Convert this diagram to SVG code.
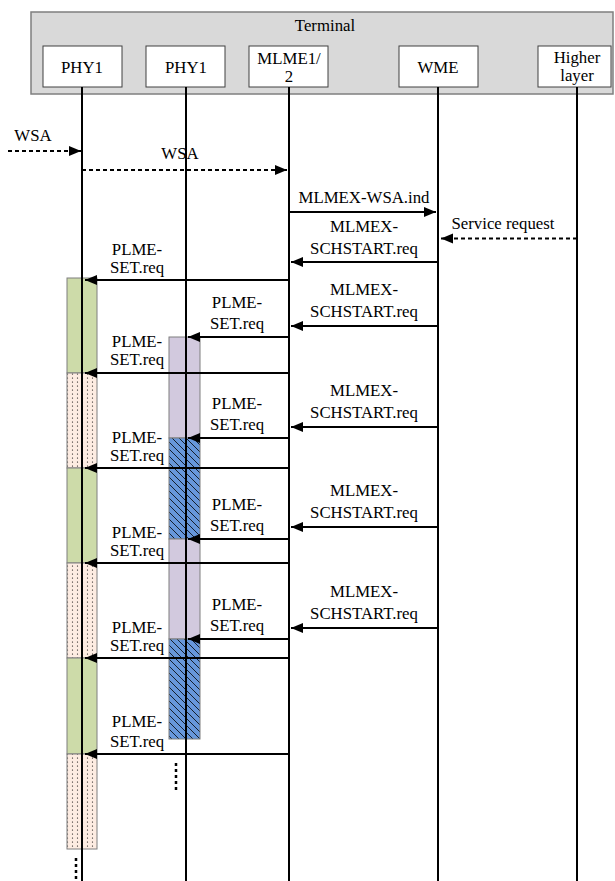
<svg xmlns="http://www.w3.org/2000/svg" width="615" height="881" viewBox="0 0 615 881">
<style>
text{font-family:'Liberation Serif','Times New Roman',Times,'DejaVu Serif',serif;font-size:16.8px;fill:#000;text-anchor:middle}
.box{fill:#fff;stroke:#404040;stroke-width:1}
.life{stroke:#000;stroke-width:2;fill:none}
.msg{stroke:#000;stroke-width:2;fill:none;marker-end:url(#ah)}
.dash{stroke:#000;stroke-width:2;fill:none;stroke-dasharray:4 3;marker-end:url(#ah)}
.dots{stroke:#000;stroke-width:2.5;fill:none;stroke-dasharray:3 3}
.blk{stroke:#7f7f7f;stroke-width:1}
.green{fill:#cddba9}
.purple{fill:#d2c9de}
.pink{fill:url(#dotpat)}
.blue{fill:url(#hatch)}
</style>
<defs>
<marker id="ah" markerUnits="userSpaceOnUse" markerWidth="13" markerHeight="11" refX="12" refY="5" orient="auto">
<path d="M0,0 L12,5 L0,10 z" fill="#000"/>
</marker>
<pattern id="dotpat" patternUnits="userSpaceOnUse" width="5" height="4">
<rect width="5" height="4" fill="#fdece2"/>
<circle cx="2.5" cy="2" r="0.6" fill="#000"/>
</pattern>
<pattern id="hatch" patternUnits="userSpaceOnUse" width="7" height="7">
<rect width="7" height="7" fill="#6797db"/>
<path d="M-1,-1 L8,8 M-1,6 L1,8 M6,-1 L8,1" stroke="#000" stroke-width="0.8"/>
</pattern>
</defs>

<g font-family="'Liberation Serif','Times New Roman',Times,'DejaVu Serif',serif">
<g id="terminal">
<rect x="31" y="12" width="582" height="82" fill="#d9d9d9" stroke="#7f7f7f" stroke-width="1.5"/>
<text x="325" y="31">Terminal</text>
</g>

<g id="blocks">
<rect class="blk green" x="67" y="278" width="30" height="95"/>
<rect class="blk pink" x="67" y="373" width="30" height="95"/>
<rect class="blk green" x="67" y="468" width="30" height="95"/>
<rect class="blk pink" x="67" y="563" width="30" height="95"/>
<rect class="blk green" x="67" y="658" width="30" height="96"/>
<rect class="blk pink" x="67" y="754" width="30" height="95"/>
<rect class="blk purple" x="169" y="337" width="31" height="101"/>
<rect class="blk blue" x="169" y="438" width="31" height="101"/>
<rect class="blk purple" x="169" y="539" width="31" height="100"/>
<rect class="blk blue" x="169" y="639" width="31" height="100"/>
</g>

<g id="phy1a">
<rect class="box" x="43" y="46" width="79" height="41"/>
<text x="82" y="73">PHY1</text>
<line class="life" x1="82" y1="87" x2="82" y2="881"/>
<line class="dots" x1="76" y1="858" x2="76" y2="881"/>
</g>
<g id="phy1b">
<rect class="box" x="146" y="46" width="79" height="41"/>
<text x="186" y="73">PHY1</text>
<line class="life" x1="186" y1="87" x2="186" y2="881"/>
<line class="dots" x1="176" y1="763" x2="176" y2="792"/>
</g>
<g id="mlme">
<rect class="box" x="249" y="46" width="79" height="41"/>
<text x="289" y="64">MLME1/</text>
<text x="289" y="82">2</text>
<line class="life" x1="289" y1="87" x2="289" y2="881"/>
</g>
<g id="wme">
<rect class="box" x="399" y="46" width="79" height="41"/>
<text x="438" y="73">WME</text>
<line class="life" x1="438" y1="87" x2="438" y2="881"/>
</g>
<g id="higher">
<rect class="box" x="538" y="46" width="73" height="41"/>
<text x="577" y="63">Higher</text>
<text x="577" y="81">layer</text>
<line class="life" x1="577" y1="87" x2="577" y2="881"/>
</g>

<g id="connectors">
<line class="dash" x1="8" y1="151" x2="81" y2="151"/>
<text x="33" y="141">WSA</text>
<line class="dash" x1="82" y1="170" x2="287" y2="170"/>
<text x="180" y="159">WSA</text>
<line class="msg" x1="289" y1="212" x2="436" y2="212"/>
<text x="364" y="203">MLMEX-WSA.ind</text>
<line class="dash" x1="577" y1="238.5" x2="441" y2="238.5"/>
<text x="503" y="229">Service request</text>

<line class="msg" x1="438" y1="262" x2="291" y2="262"/>
<text x="364" y="232">MLMEX-</text><text x="364" y="254">SCHSTART.req</text>
<line class="msg" x1="438" y1="326" x2="291" y2="326"/>
<text x="364" y="295">MLMEX-</text><text x="364" y="317">SCHSTART.req</text>
<line class="msg" x1="438" y1="427" x2="291" y2="427"/>
<text x="364" y="396">MLMEX-</text><text x="364" y="418">SCHSTART.req</text>
<line class="msg" x1="438" y1="527" x2="291" y2="527"/>
<text x="364" y="496">MLMEX-</text><text x="364" y="518">SCHSTART.req</text>
<line class="msg" x1="438" y1="628" x2="291" y2="628"/>
<text x="364" y="597">MLMEX-</text><text x="364" y="619">SCHSTART.req</text>

<line class="msg" x1="289" y1="337" x2="188" y2="337"/>
<text x="237" y="308">PLME-</text><text x="237" y="329">SET.req</text>
<line class="msg" x1="289" y1="438" x2="188" y2="438"/>
<text x="237" y="409">PLME-</text><text x="237" y="430">SET.req</text>
<line class="msg" x1="289" y1="539" x2="188" y2="539"/>
<text x="237" y="510">PLME-</text><text x="237" y="531">SET.req</text>
<line class="msg" x1="289" y1="639" x2="188" y2="639"/>
<text x="237" y="610">PLME-</text><text x="237" y="631">SET.req</text>

<line class="msg" x1="289" y1="280" x2="85" y2="280"/>
<text x="137" y="255">PLME-</text><text x="137" y="273">SET.req</text>
<line class="msg" x1="289" y1="373" x2="85" y2="373"/>
<text x="137" y="347">PLME-</text><text x="137" y="365">SET.req</text>
<line class="msg" x1="289" y1="468" x2="85" y2="468"/>
<text x="137" y="443">PLME-</text><text x="137" y="461">SET.req</text>
<line class="msg" x1="289" y1="563" x2="85" y2="563"/>
<text x="137" y="538">PLME-</text><text x="137" y="556">SET.req</text>
<line class="msg" x1="289" y1="658" x2="85" y2="658"/>
<text x="137" y="633">PLME-</text><text x="137" y="651">SET.req</text>
<line class="msg" x1="289" y1="754" x2="85" y2="754"/>
<text x="137" y="727">PLME-</text><text x="137" y="747">SET.req</text>
</g>
</g>
</svg>
